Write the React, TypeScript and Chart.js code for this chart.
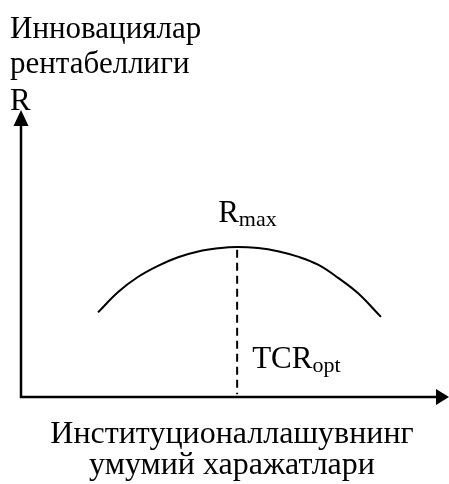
import React, { useEffect, useRef } from "react";
import { Chart, registerables } from "chart.js";

Chart.register(...registerables);

// Curve of profitability vs. total institutionalization costs
const curveX = [18.0, 22.7, 27.3, 32.0, 36.7, 41.4, 46.0, 50.5, 55.4, 60.0, 64.7, 69.4, 74.1, 78.7, 84.1];
const curveY = [29.5, 36.6, 41.8, 45.7, 48.7, 50.7, 51.8, 52.3, 51.9, 50.8, 48.9, 46.1, 41.5, 36.2, 27.9];
const optX = 50.5;
const maxY = 52.3;

const yTitleLines = ["Инновациялар", "рентабеллиги", "R"];
const xTitleLines = ["Институционаллашувнинг", "умумий харажатлари"];
const peakLabel = { main: "R", sub: "max" };
const optLabel = { main: "TCR", sub: "opt" };

const FONT = "'Liberation Serif', 'Times New Roman', serif";
const FS = 31;
const FS_X = 32;
const SUB = 22;

const decor = {
  id: "decor",
  afterDatasetsDraw(chart: any) {
    const { ctx, chartArea, scales } = chart;
    const x0 = scales.x.getPixelForValue(0);
    const y0 = scales.y.getPixelForValue(0);
    const xEnd = chartArea.right;
    const yEnd = chartArea.top;
    ctx.save();
    ctx.strokeStyle = "#000";
    ctx.fillStyle = "#000";
    ctx.lineWidth = 2.5;
    ctx.lineCap = "butt";
    // axes
    ctx.beginPath();
    ctx.moveTo(x0, yEnd + 12);
    ctx.lineTo(x0, y0);
    ctx.lineTo(xEnd - 10, y0);
    ctx.stroke();
    // arrow heads
    ctx.beginPath();
    ctx.moveTo(x0, yEnd);
    ctx.lineTo(x0 - 7.5, yEnd + 16);
    ctx.lineTo(x0 + 7.5, yEnd + 16);
    ctx.closePath();
    ctx.fill();
    ctx.beginPath();
    ctx.moveTo(xEnd, y0);
    ctx.lineTo(xEnd - 13, y0 - 8);
    ctx.lineTo(xEnd - 13, y0 + 8);
    ctx.closePath();
    ctx.fill();

    // texts
    ctx.textBaseline = "alphabetic";
    ctx.font = `${FS}px ${FONT}`;
    ctx.textAlign = "left";
    const tb = [38, 73, 110];
    yTitleLines.forEach((t, i) => ctx.fillText(t, 10, tb[i]));
    ctx.textAlign = "center";
    ctx.font = `${FS_X}px ${FONT}`;
    const bb = [443, 474];
    xTitleLines.forEach((t, i) => ctx.fillText(t, 232, bb[i]));

    const drawSub = (lab: { main: string; sub: string }, x: number, y: number) => {
      ctx.textAlign = "left";
      ctx.font = `${FS}px ${FONT}`;
      ctx.fillText(lab.main, x, y);
      const w = ctx.measureText(lab.main).width;
      ctx.font = `${SUB}px ${FONT}`;
      ctx.fillText(lab.sub, x + w, y + 4);
    };
    const px = scales.x.getPixelForValue(optX);
    const py = scales.y.getPixelForValue(maxY);
    drawSub(peakLabel, px - 19, py - 25);
    drawSub(optLabel, px + 15, y0 - 29);
    ctx.restore();
  },
};

export default function App() {
  const ref = useRef<HTMLCanvasElement>(null);
  useEffect(() => {
    if (!ref.current) return;
    const chart = new Chart(ref.current, {
      type: "scatter",
      data: {
        datasets: [
          {
            data: curveX.map((x, i) => ({ x, y: curveY[i] })),
            showLine: true,
            borderColor: "#000",
            borderWidth: 2,
            pointRadius: 0,
            tension: 0.4,
          } as any,
          {
            data: [
              { x: optX, y: maxY - 1 },
              { x: optX, y: 1 },
            ],
            showLine: true,
            borderColor: "#000",
            borderWidth: 2,
            borderDash: [8, 5],
            pointRadius: 0,
          } as any,
        ],
      },
      options: {
        animation: false,
        responsive: false,
        devicePixelRatio: 1,
        layout: { padding: { left: 21, right: 0, top: 110, bottom: 87 } },
        plugins: { legend: { display: false }, tooltip: { enabled: false } },
        scales: {
          x: { type: "linear", min: 0, max: 100, display: false },
          y: { type: "linear", min: 0, max: 100, display: false },
        },
      },
      plugins: [decor],
    });
    return () => chart.destroy();
  }, []);
  return (
    <canvas
      ref={ref}
      width={449}
      height={484}
      style={{ position: "fixed", left: 0, top: 0, width: 449, height: 484, background: "#fff" }}
    />
  );
}
